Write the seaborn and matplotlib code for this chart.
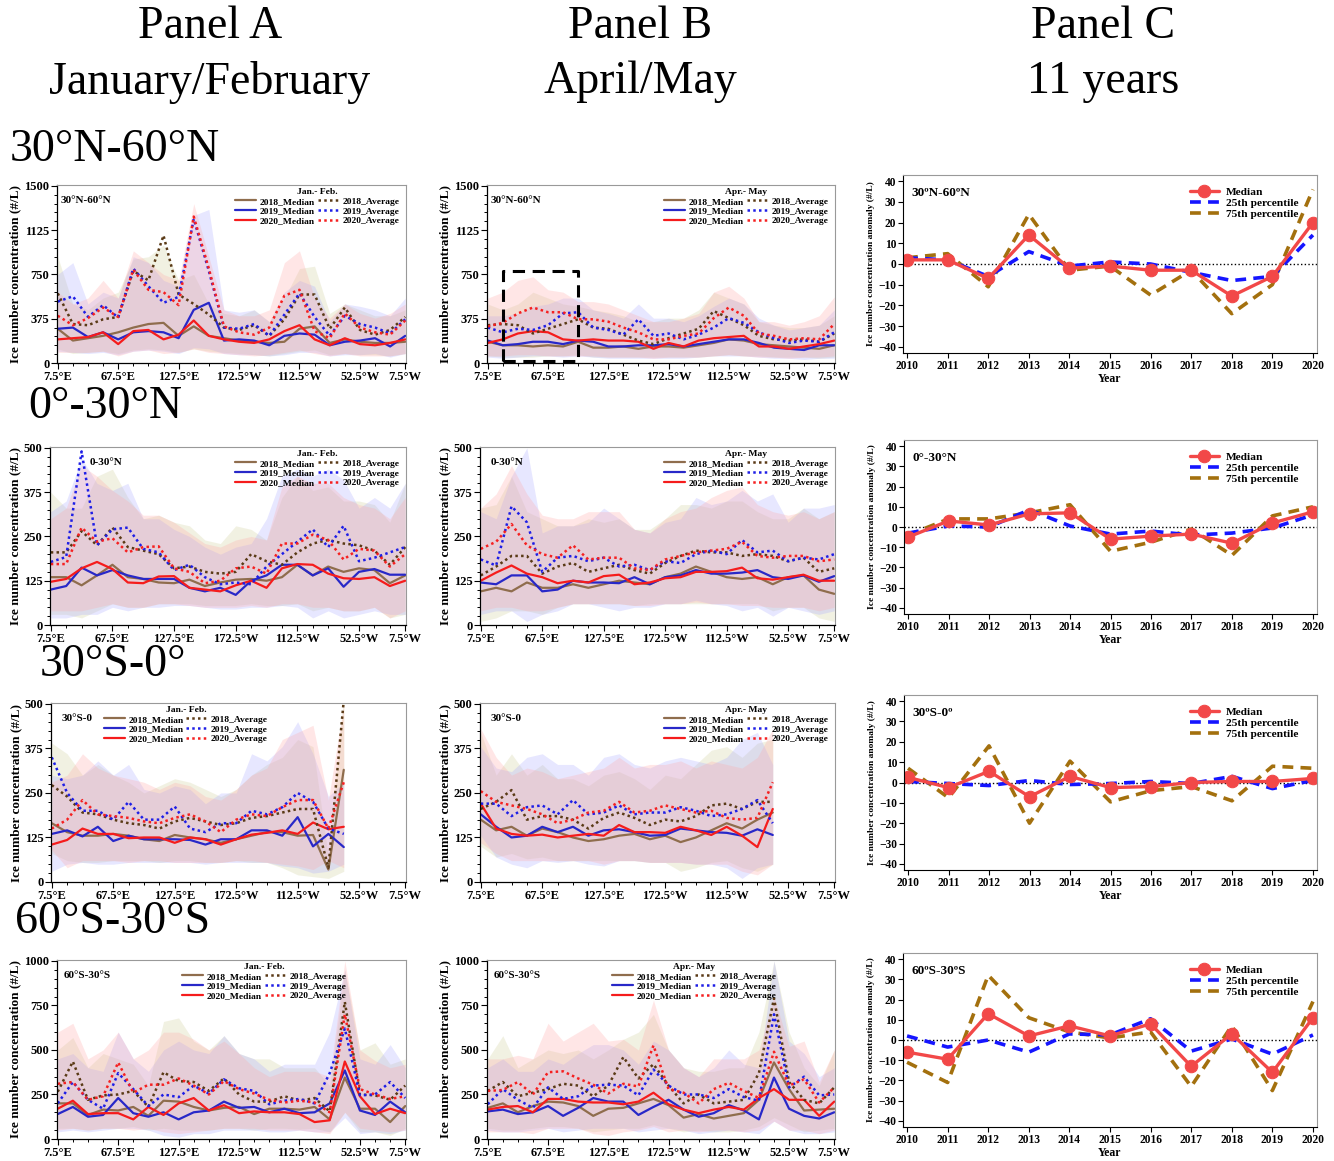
import numpy as np
import matplotlib
matplotlib.use("Agg")
import matplotlib.pyplot as plt
from matplotlib.ticker import AutoMinorLocator, FixedLocator
import seaborn as sns

# longitude grid (15 deg bins, 7.5E .. 7.5W)
lon_idx = list(range(24))
lon_ticks = [0, 4, 8, 12, 16, 20, 23]
lon_labels = ["7.5°E", "67.5°E", "127.5°E", "172.5°W", "112.5°W", "52.5°W", "7.5°W"]
years_c = [2010, 2011, 2012, 2013, 2014, 2015, 2016, 2017, 2018, 2019, 2020]

# ---- Panel A, 30N-60N (Jan-Feb)
A1_med18 = [290, 190, 210, 230, 260, 300, 330, 340, 230, 310, 230, 210, 190, 180, 170, 180, 290, 310, 170, 200, 180, 170, 170, 180]
A1_med19 = [290, 300, 220, 260, 200, 260, 270, 260, 210, 450, 510, 190, 200, 190, 150, 230, 250, 240, 150, 180, 190, 210, 140, 230]
A1_med20 = [200, 210, 220, 260, 160, 270, 280, 200, 240, 360, 230, 200, 180, 170, 200, 270, 320, 200, 150, 210, 160, 150, 170, 200]
A1_avg18 = [590, 330, 320, 370, 390, 780, 700, 1080, 580, 500, 410, 300, 280, 320, 230, 370, 580, 580, 290, 470, 280, 240, 280, 390]
A1_avg19 = [520, 565, 390, 490, 385, 800, 650, 510, 560, 1220, 780, 300, 290, 330, 230, 410, 590, 390, 230, 400, 330, 300, 250, 370]
A1_avg20 = [400, 320, 380, 470, 390, 790, 620, 600, 490, 1240, 800, 310, 260, 240, 300, 570, 620, 270, 210, 420, 300, 260, 240, 360]
A1_hi18 = [900, 500, 450, 550, 600, 880, 900, 1000, 700, 750, 500, 420, 400, 450, 350, 550, 800, 820, 420, 500, 450, 400, 400, 450]
A1_hi19 = [750, 850, 500, 600, 550, 900, 850, 700, 650, 1250, 1300, 450, 430, 450, 350, 600, 700, 650, 350, 500, 480, 450, 400, 550]
A1_hi20 = [600, 500, 550, 700, 550, 950, 850, 750, 700, 1350, 900, 450, 400, 400, 450, 850, 950, 550, 380, 500, 420, 380, 420, 500]
A1_lo18 = [120, 80, 90, 100, 80, 110, 120, 110, 90, 120, 100, 90, 80, 70, 60, 80, 100, 110, 70, 80, 70, 70, 60, 80]
A1_lo19 = [100, 90, 80, 90, 70, 100, 110, 100, 80, 130, 120, 80, 70, 70, 60, 70, 90, 90, 60, 70, 70, 80, 50, 80]
A1_lo20 = [90, 90, 90, 100, 60, 100, 110, 80, 90, 120, 90, 80, 70, 60, 70, 90, 110, 80, 60, 80, 60, 60, 60, 80]

# ---- Panel A, 0-30N
A2_med18 = [135, 135, 112, 140, 170, 135, 130, 120, 118, 128, 110, 120, 128, 130, 125, 135, 170, 140, 165, 150, 160, 155, 118, 140]
A2_med19 = [100, 110, 162, 140, 155, 140, 130, 130, 130, 105, 95, 105, 85, 125, 140, 170, 170, 140, 160, 108, 150, 158, 142, 142]
A2_med20 = [122, 130, 160, 178, 158, 120, 118, 137, 138, 105, 100, 95, 112, 125, 105, 160, 172, 170, 145, 132, 130, 135, 110, 125]
A2_avg18 = [205, 205, 265, 225, 275, 220, 210, 200, 160, 165, 150, 145, 150, 200, 180, 170, 205, 230, 240, 230, 225, 210, 170, 220]
A2_avg19 = [178, 192, 490, 225, 270, 275, 215, 205, 155, 170, 135, 115, 120, 115, 165, 200, 235, 270, 220, 280, 180, 190, 205, 220]
A2_avg20 = [172, 172, 275, 235, 245, 205, 220, 222, 160, 150, 118, 125, 160, 165, 145, 230, 230, 255, 240, 185, 215, 210, 165, 200]
A2_hi18 = [375, 330, 330, 420, 440, 360, 300, 310, 290, 280, 240, 230, 280, 270, 240, 360, 420, 380, 390, 350, 350, 340, 290, 400]
A2_hi19 = [320, 350, 470, 400, 380, 400, 300, 300, 270, 250, 220, 200, 220, 230, 300, 420, 440, 420, 440, 410, 330, 360, 330, 400]
A2_hi20 = [300, 330, 450, 420, 380, 350, 310, 310, 290, 260, 230, 220, 240, 250, 240, 390, 420, 400, 400, 360, 340, 330, 300, 360]
A2_lo18 = [30, 30, 20, 40, 60, 50, 50, 60, 60, 60, 55, 55, 55, 60, 55, 55, 60, 40, 50, 40, 40, 50, 20, 30]
A2_lo19 = [20, 20, 30, 30, 50, 40, 50, 50, 55, 55, 50, 45, 45, 50, 50, 55, 50, 20, 40, 20, 30, 40, 30, 30]
A2_lo20 = [40, 40, 40, 50, 60, 50, 50, 60, 60, 55, 50, 50, 50, 55, 50, 60, 60, 50, 50, 40, 40, 50, 20, 40]

# ---- Panel A, 30S-0 (data up to 67.5W only)
A3_med18 = [165, 140, 130, 130, 135, 130, 120, 115, 132, 125, 120, 110, 120, 130, 140, 140, 130, 132, 35, 315]
A3_med19 = [135, 145, 128, 155, 115, 130, 120, 120, 120, 118, 105, 120, 120, 145, 145, 130, 182, 100, 135, 98]
A3_med20 = [105, 118, 150, 135, 135, 123, 125, 125, 110, 125, 120, 105, 120, 133, 138, 145, 135, 167, 148, 155]
A3_avg18 = [272, 240, 195, 190, 175, 165, 160, 150, 170, 180, 170, 160, 165, 180, 185, 195, 205, 205, 40, 510]
A3_avg19 = [350, 250, 200, 200, 175, 225, 175, 175, 212, 150, 140, 165, 165, 200, 190, 210, 250, 225, 150, 135]
A3_avg20 = [150, 175, 230, 190, 185, 180, 170, 165, 180, 190, 170, 140, 175, 190, 185, 210, 230, 230, 150, 280]
A3_hi18 = [390, 360, 300, 330, 300, 280, 250, 270, 290, 280, 260, 240, 260, 300, 330, 350, 400, 380, 70, 520]
A3_hi19 = [300, 290, 300, 340, 300, 330, 260, 250, 270, 260, 220, 250, 250, 360, 340, 380, 450, 360, 240, 280]
A3_hi20 = [280, 300, 360, 320, 300, 290, 280, 260, 280, 270, 240, 230, 260, 300, 320, 400, 420, 440, 230, 500]
A3_lo18 = [80, 60, 55, 55, 60, 60, 60, 55, 60, 60, 55, 55, 60, 55, 55, 40, 20, 15, 10, 30]
A3_lo19 = [30, 50, 55, 50, 50, 55, 55, 55, 55, 55, 50, 55, 55, 55, 55, 45, 40, 25, 30, 50]
A3_lo20 = [90, 40, 60, 60, 60, 55, 60, 60, 55, 55, 55, 55, 60, 60, 55, 50, 45, 35, 60, 40]

# ---- Panel A, 60S-30S
A4_med18 = [200, 200, 135, 165, 160, 180, 130, 215, 210, 180, 160, 175, 180, 140, 170, 170, 165, 180, 110, 345, 170, 170, 95, 185]
A4_med19 = [140, 180, 125, 135, 230, 145, 125, 150, 110, 150, 160, 210, 175, 180, 150, 170, 145, 150, 200, 385, 160, 135, 210, 150]
A4_med20 = [170, 215, 140, 145, 145, 110, 180, 135, 200, 230, 160, 190, 145, 155, 150, 150, 140, 95, 105, 435, 240, 140, 170, 145]
A4_avg18 = [265, 435, 220, 245, 250, 270, 180, 375, 325, 320, 270, 340, 250, 210, 210, 240, 215, 230, 155, 770, 250, 245, 220, 300]
A4_avg19 = [200, 320, 220, 170, 370, 280, 185, 250, 235, 300, 255, 335, 285, 270, 195, 215, 225, 200, 370, 620, 245, 250, 320, 230]
A4_avg20 = [310, 320, 220, 240, 430, 260, 305, 305, 340, 300, 250, 325, 280, 255, 220, 205, 215, 205, 150, 700, 280, 250, 225, 240]
A4_hi18 = [500, 570, 400, 480, 450, 420, 300, 660, 680, 550, 500, 580, 480, 450, 450, 400, 400, 400, 300, 950, 500, 540, 420, 450]
A4_hi19 = [450, 480, 400, 380, 600, 450, 380, 500, 550, 500, 480, 580, 480, 450, 380, 420, 420, 420, 600, 950, 450, 420, 530, 400]
A4_hi20 = [600, 650, 450, 500, 600, 450, 500, 600, 600, 560, 500, 550, 480, 400, 350, 380, 380, 380, 350, 1000, 500, 440, 400, 420]
A4_lo18 = [60, 60, 50, 60, 60, 70, 50, 60, 50, 50, 50, 60, 60, 50, 60, 60, 55, 60, 40, 150, 40, 40, 20, 60]
A4_lo19 = [40, 50, 40, 50, 60, 60, 50, 20, 10, 30, 30, 50, 50, 50, 40, 40, 50, 40, 40, 120, 30, 40, 30, 50]
A4_lo20 = [50, 60, 50, 60, 60, 50, 60, 40, 30, 40, 50, 60, 60, 60, 50, 50, 50, 40, 30, 150, 60, 50, 40, 50]

# ---- Panel B, 30N-60N (Apr-May)
B1_med18 = [180, 150, 150, 140, 150, 140, 180, 130, 130, 140, 120, 140, 140, 130, 150, 170, 200, 190, 160, 150, 140, 130, 120, 150]
B1_med19 = [190, 150, 160, 180, 180, 160, 190, 180, 140, 140, 150, 150, 160, 140, 160, 180, 200, 200, 170, 130, 120, 110, 150, 150]
B1_med20 = [170, 200, 250, 270, 260, 200, 190, 200, 190, 190, 180, 120, 170, 140, 190, 210, 220, 230, 140, 140, 120, 140, 160, 190]
B1_avg18 = [320, 330, 320, 250, 290, 330, 370, 300, 290, 240, 190, 160, 210, 250, 290, 440, 380, 320, 230, 200, 190, 200, 180, 250]
B1_avg19 = [300, 260, 290, 280, 320, 420, 430, 300, 280, 240, 370, 230, 250, 200, 240, 300, 380, 340, 260, 210, 170, 190, 180, 260]
B1_avg20 = [310, 340, 420, 470, 430, 430, 370, 370, 350, 300, 260, 200, 200, 230, 250, 380, 470, 400, 250, 230, 200, 210, 200, 330]
B1_hi18 = [500, 450, 500, 600, 550, 500, 480, 450, 430, 400, 350, 350, 380, 380, 450, 600, 550, 500, 350, 320, 300, 300, 320, 400]
B1_hi19 = [400, 400, 420, 480, 500, 550, 550, 450, 420, 380, 500, 380, 380, 350, 400, 480, 550, 500, 380, 320, 280, 300, 320, 450]
B1_hi20 = [550, 600, 700, 730, 620, 600, 520, 520, 500, 450, 400, 350, 350, 380, 420, 600, 650, 550, 350, 350, 320, 350, 400, 560]
B1_lo18 = [60, 50, 50, 50, 60, 60, 70, 50, 50, 50, 50, 50, 50, 50, 50, 60, 70, 60, 60, 50, 50, 50, 40, 50]
B1_lo19 = [50, 40, 50, 60, 60, 50, 60, 50, 40, 40, 40, 40, 40, 40, 50, 60, 60, 60, 50, 40, 40, 30, 40, 40]
B1_lo20 = [60, 60, 70, 70, 60, 60, 60, 60, 50, 50, 50, 40, 50, 50, 50, 60, 70, 60, 50, 50, 40, 50, 50, 60]

# ---- Panel B, 0-30N
B2_med18 = [95, 105, 95, 120, 105, 105, 115, 105, 115, 125, 120, 115, 135, 145, 165, 150, 135, 130, 135, 115, 135, 140, 100, 88]
B2_med19 = [120, 115, 140, 140, 95, 100, 125, 120, 120, 118, 135, 115, 135, 140, 155, 145, 145, 148, 155, 135, 130, 140, 122, 138]
B2_med20 = [125, 148, 168, 145, 135, 118, 125, 120, 138, 142, 115, 120, 132, 135, 150, 150, 152, 162, 132, 128, 135, 142, 125, 125]
B2_avg18 = [140, 165, 195, 195, 145, 165, 175, 150, 160, 170, 155, 145, 175, 195, 210, 205, 205, 195, 200, 195, 180, 190, 150, 160]
B2_avg19 = [185, 168, 335, 290, 150, 190, 195, 180, 190, 165, 170, 155, 180, 175, 200, 210, 200, 240, 205, 210, 180, 190, 185, 200]
B2_avg20 = [215, 235, 285, 225, 200, 190, 225, 185, 190, 190, 160, 155, 185, 195, 205, 210, 215, 235, 195, 190, 195, 195, 180, 185]
B2_hi18 = [330, 340, 420, 320, 300, 280, 280, 300, 290, 300, 270, 270, 300, 340, 340, 330, 350, 350, 320, 300, 300, 330, 300, 320]
B2_hi19 = [320, 300, 420, 500, 260, 280, 280, 290, 330, 300, 270, 260, 290, 300, 360, 340, 350, 380, 350, 370, 290, 330, 330, 340]
B2_hi20 = [330, 370, 450, 370, 310, 300, 300, 320, 320, 320, 270, 260, 300, 320, 330, 360, 380, 390, 340, 320, 310, 320, 300, 320]
B2_lo18 = [10, 20, 40, 40, 30, 50, 60, 60, 60, 60, 55, 60, 60, 60, 60, 60, 60, 60, 60, 40, 50, 50, 20, 10]
B2_lo19 = [30, 40, 40, 10, 30, 40, 60, 60, 50, 40, 50, 50, 60, 60, 70, 60, 55, 40, 50, 25, 50, 40, 30, 40]
B2_lo20 = [40, 50, 50, 40, 40, 50, 60, 60, 60, 60, 55, 55, 60, 60, 65, 60, 60, 55, 55, 50, 50, 50, 40, 50]

# ---- Panel B, 30S-0
B3_med18 = [175, 145, 155, 130, 150, 140, 125, 115, 120, 130, 135, 120, 130, 112, 125, 145, 165, 150, 175, 195]
B3_med19 = [190, 155, 125, 130, 155, 140, 155, 130, 145, 148, 140, 130, 132, 150, 145, 140, 138, 130, 148, 132]
B3_med20 = [220, 150, 135, 130, 133, 125, 130, 135, 130, 160, 140, 140, 138, 155, 145, 132, 155, 130, 98, 205]
B3_avg18 = [205, 225, 258, 175, 185, 185, 175, 150, 180, 195, 180, 160, 175, 170, 185, 215, 220, 205, 225, 225]
B3_avg19 = [220, 220, 185, 210, 215, 190, 230, 190, 195, 215, 190, 195, 195, 210, 200, 185, 190, 205, 230, 165]
B3_avg20 = [255, 225, 215, 205, 190, 165, 175, 195, 200, 225, 195, 200, 215, 205, 195, 200, 180, 175, 180, 280]
B3_hi18 = [420, 300, 360, 300, 330, 290, 290, 270, 300, 310, 290, 260, 300, 290, 330, 370, 380, 350, 390, 400]
B3_hi19 = [380, 320, 310, 350, 360, 330, 330, 300, 350, 360, 330, 320, 340, 350, 340, 330, 350, 400, 420, 330]
B3_hi20 = [430, 350, 300, 320, 310, 290, 300, 310, 320, 350, 320, 330, 330, 340, 320, 340, 330, 320, 350, 430]
B3_lo18 = [100, 70, 80, 65, 70, 60, 60, 60, 60, 60, 60, 55, 55, 30, 40, 55, 60, 40, 30, 50]
B3_lo19 = [130, 70, 50, 40, 60, 55, 60, 50, 45, 60, 60, 55, 55, 55, 50, 50, 40, 10, 40, 50]
B3_lo20 = [110, 80, 60, 60, 60, 60, 60, 60, 50, 60, 60, 55, 55, 55, 50, 50, 50, 30, 20, 50]

# ---- Panel B, 60S-30S
B4_med18 = [175, 200, 150, 185, 210, 205, 185, 130, 170, 175, 200, 225, 190, 120, 140, 115, 130, 145, 220, 430, 280, 160, 165, 170]
B4_med19 = [155, 165, 140, 150, 185, 130, 175, 230, 210, 210, 135, 180, 220, 165, 125, 145, 190, 160, 110, 345, 170, 130, 115, 150]
B4_med20 = [165, 180, 185, 150, 225, 225, 210, 205, 205, 195, 210, 260, 195, 165, 145, 165, 180, 165, 230, 280, 220, 220, 130, 210]
B4_avg18 = [270, 320, 240, 260, 280, 310, 300, 240, 300, 460, 340, 420, 300, 200, 250, 200, 210, 220, 370, 790, 320, 220, 200, 290]
B4_avg19 = [195, 280, 220, 175, 290, 225, 240, 300, 305, 300, 245, 390, 300, 250, 250, 230, 280, 235, 215, 700, 290, 350, 245, 250]
B4_avg20 = [270, 275, 320, 250, 375, 380, 340, 305, 255, 310, 295, 525, 280, 260, 200, 280, 315, 270, 230, 490, 300, 335, 205, 290]
B4_hi18 = [450, 580, 400, 450, 500, 480, 500, 450, 500, 560, 600, 700, 500, 400, 380, 380, 400, 400, 600, 1000, 600, 400, 300, 500]
B4_hi19 = [400, 450, 380, 380, 450, 420, 480, 530, 530, 500, 420, 550, 500, 400, 350, 400, 500, 420, 400, 1000, 550, 480, 350, 400]
B4_hi20 = [450, 450, 470, 450, 650, 550, 600, 650, 550, 560, 500, 780, 500, 400, 350, 450, 450, 450, 500, 800, 520, 550, 320, 500]
B4_lo18 = [60, 50, 50, 60, 70, 70, 60, 40, 50, 60, 60, 80, 60, 40, 50, 40, 40, 50, 70, 120, 80, 40, 50, 60]
B4_lo19 = [50, 40, 40, 50, 60, 40, 50, 60, 60, 60, 40, 50, 60, 50, 30, 40, 50, 40, 30, 100, 50, 30, 30, 40]
B4_lo20 = [40, 40, 40, 30, 60, 60, 60, 30, 20, 40, 50, 70, 40, 50, 40, 50, 50, 40, 50, 100, 50, 50, 30, 50]

# ---- Panel C, anomalies 2010-2020
C1_med = [2, 2, -7, 14, -2, -1, -3, -3, -15.5, -6, 20]
C1_p25 = [3, 2, -6, 6, -1, 1, 0, -4, -8, -6, 14]
C1_p75 = [3, 5, -11, 24, -3, -1, -15, -3, -24, -10, 36]
C2_med = [-5, 3, 1, 6.5, 7, -6, -4.5, -3.5, -8, 2, 7.5]
C2_p25 = [-3, 0.5, 0, 8.5, 0.5, -3.5, -2, -4, -3, -0.5, 6]
C2_p75 = [-4, 4, 4, 7, 11, -12, -7.5, -1, -14, 5.5, 10]
C3_med = [2.5, -2.5, 5.5, -7, 3, -2.5, -2, 0, 0.5, 0.5, 2]
C3_p25 = [0.5, -0.5, -1.5, 1, -1, -0.5, 0.5, -0.5, 3, -3, 1]
C3_p75 = [7, -7.5, 18, -20, 10.5, -9.5, -4, -2, -9, 8, 7]
C4_med = [-6, -9.5, 13, 2, 7, 2, 8, -13, 3, -16, 11]
C4_p25 = [2, -3.5, 0, -6, 3, 2.5, 10.5, -5.5, 0.5, -7, 2.5]
C4_p75 = [-11, -21, 32, 11, 4, 1, 4, -23, 7, -25, 19]

W, H = 1334, 1161
sns.set_theme(style="ticks")
plt.rcParams["font.family"] = ["Liberation Serif", "DejaVu Serif"]
plt.rcParams["font.weight"] = "bold"
plt.rcParams["axes.labelweight"] = "bold"
plt.rcParams["text.color"] = "black"
plt.rcParams["axes.labelcolor"] = "black"
plt.rcParams["xtick.color"] = "black"
plt.rcParams["ytick.color"] = "black"

fig = plt.figure(figsize=(W / 100, H / 100), dpi=100)


def px_axes(l, t, r, b):
    return fig.add_axes([l / W, 1 - b / H, (r - l) / W, (b - t) / H])


col_med = {"2018": "#8f6d4d", "2019": "#2828c8", "2020": "#f51c1c"}
col_avg = {"2018": "#5a3a16", "2019": "#1e1ee6", "2020": "#f52020"}
col_band = {"2018": "#cfcf9a", "2019": "#a9a9ff", "2020": "#ffa8a8"}

ns = globals()


def lon_panel(ax, key, ymax, region, season, leg_loc, leg_anchor, lab_x):
    lines_med, lines_avg = [], []
    for yr in ["2018", "2019", "2020"]:
        s = yr[2:]
        lo, hi = ns[f"{key}_lo{s}"], ns[f"{key}_hi{s}"]
        xs = lon_idx[:len(lo)]
        ax.fill_between(xs, lo, hi, color=col_band[yr], alpha=0.28, lw=0)
    for yr in ["2018", "2019", "2020"]:
        s = yr[2:]
        med = ns[f"{key}_med{s}"]
        xs = lon_idx[:len(med)]
        sns.lineplot(x=xs, y=med, ax=ax, color=col_med[yr], lw=1.6, label=f"{yr}_Median")
        lines_med.append(ax.lines[-1])
    for yr in ["2018", "2019", "2020"]:
        s = yr[2:]
        avg = ns[f"{key}_avg{s}"]
        xs = lon_idx[:len(avg)]
        sns.lineplot(x=xs, y=avg, ax=ax, color=col_avg[yr], lw=1.8, label=f"{yr}_Average")
        ax.lines[-1].set_linestyle((0, (1.0, 1.3)))
        lines_avg.append(ax.lines[-1])
    leg = ax.legend(handles=lines_med + lines_avg, ncol=2, loc=leg_loc, bbox_to_anchor=leg_anchor,
                    title=season, frameon=False, fontsize=6.8, title_fontsize=6.8,
                    handlelength=2.2, handletextpad=0.4, columnspacing=0.3, labelspacing=0.12,
                    borderpad=0.2)
    for t in leg.get_texts():
        t.set_fontweight("bold")
    leg.get_title().set_fontweight("bold")
    ax.text(lab_x, 0.94, region, transform=ax.transAxes, fontsize=8, fontweight="bold", va="top")
    ax.set_xlim(-0.05, 23.05)
    ax.set_ylim(0, ymax * 1.005)
    ax.set_yticks(np.linspace(0, ymax, 5))
    ax.set_yticklabels([f"{v:g}" for v in np.linspace(0, ymax, 5)])
    ax.yaxis.set_minor_locator(AutoMinorLocator(5))
    ax.set_xticks(lon_ticks)
    ax.set_xticklabels(lon_labels)
    ax.xaxis.set_minor_locator(FixedLocator(lon_idx))
    ax.tick_params(axis="both", which="major", labelsize=9, length=4, width=0.8, pad=1.5)
    ax.tick_params(axis="both", which="minor", length=2.5, width=0.7)
    for lab in ax.get_xticklabels() + ax.get_yticklabels():
        lab.set_fontweight("bold")
    ax.set_ylabel("Ice number concentration (#/L)", fontsize=9.5, fontweight="bold", labelpad=2)
    for sp in ["top", "right"]:
        ax.spines[sp].set_color("#999999")
        ax.spines[sp].set_linewidth(0.8)
    for sp in ["left", "bottom"]:
        ax.spines[sp].set_color("black")
        ax.spines[sp].set_linewidth(0.9)


def year_panel(ax, key, region):
    sns.lineplot(x=years_c, y=ns[f"{key}_p75"], ax=ax, color="#a3700e", lw=2.6, label="75th percentile")
    l75 = ax.lines[-1]
    l75.set_linestyle((0, (3, 2)))
    sns.lineplot(x=years_c, y=ns[f"{key}_p25"], ax=ax, color="#1515ff", lw=2.6, label="25th percentile")
    l25 = ax.lines[-1]
    l25.set_linestyle((0, (3, 2)))
    sns.lineplot(x=years_c, y=ns[f"{key}_med"], ax=ax, color="#f24848", lw=2.4, marker="o",
                 markersize=9, markeredgecolor="#f24848", label="Median")
    lmed = ax.lines[-1]
    ax.axhline(0, color="black", ls=":", lw=1.0, zorder=0)
    leg = ax.legend(handles=[lmed, l25, l75], loc="upper right", bbox_to_anchor=(0.98, 0.99),
                    frameon=False, fontsize=8.2, handlelength=2.6, labelspacing=0.1,
                    handletextpad=0.6)
    for t in leg.get_texts():
        t.set_fontweight("bold")
    ax.text(0.02, 0.93, region, transform=ax.transAxes, fontsize=9.5, fontweight="bold", va="top")
    ax.set_xlim(2009.9, 2020.1)
    ax.set_ylim(-43, 43)
    ax.set_xticks(years_c)
    ax.set_xticklabels([str(y) for y in years_c])
    ax.set_yticks(range(-40, 41, 10))
    ax.tick_params(axis="both", labelsize=8.3, length=3.5, width=0.8, pad=1.5)
    for lab in ax.get_xticklabels() + ax.get_yticklabels():
        lab.set_fontweight("bold")
    ax.set_xlabel("Year", fontsize=8.5, fontweight="bold", labelpad=1)
    ax.set_ylabel("Ice number concentration anomaly (#/L)", fontsize=6.8, fontweight="bold", labelpad=2)
    for sp in ["top", "right"]:
        ax.spines[sp].set_color("#999999")
    for sp in ["left", "bottom"]:
        ax.spines[sp].set_color("black")
    for sp in ax.spines.values():
        sp.set_linewidth(0.8)


rows = [
    ("A1", "B1", "C1", 1500, "30°N-60°N", "30°N-60°N", "30ºN-60ºN"),
    ("A2", "B2", "C2", 500, "0-30°N", "0-30°N", "0°-30°N"),
    ("A3", "B3", "C3", 500, "30°S-0", "30°S-0", "30ºS-0º"),
    ("A4", "B4", "C4", 1000, "60°S-30°S", "60°S-30°S", "60ºS-30ºS"),
]
boxes_a = [(57, 185, 406, 363), (50, 447, 406, 625), (51, 703, 406, 882), (57, 960, 406, 1139)]
boxes_b = [(487, 185, 835, 363), (480, 447, 835, 625), (480, 703, 835, 882), (487, 960, 835, 1139)]
boxes_c = [(903, 175, 1317, 353), (904, 440, 1317, 614), (904, 695, 1317, 870), (903, 953, 1317, 1127)]
leg_a = [("upper right", (1.0, 1.02)), ("upper right", (1.0, 1.02)),
         ("upper left", (0.13, 1.02)), ("upper left", (0.34, 1.02))]
leg_b = [("upper right", (1.0, 1.02)), ("upper right", (1.0, 1.02)),
         ("upper right", (1.0, 1.02)), ("upper left", (0.34, 1.02))]
lab_a = [0.01, 0.11, 0.03, 0.02]
lab_b = [0.01, 0.03, 0.03, 0.02]

for i, (ka, kb, kc, ymax, ra, rb, rc) in enumerate(rows):
    ax = px_axes(*boxes_a[i])
    lon_panel(ax, ka, ymax, ra, "Jan.- Feb.", leg_a[i][0], leg_a[i][1], lab_a[i])
    ax = px_axes(*boxes_b[i])
    lon_panel(ax, kb, ymax, rb, "Apr.- May", leg_b[i][0], leg_b[i][1], lab_b[i])
    if i == 0:
        ax.plot([1, 1, 6, 6, 1], [15, 780, 780, 15, 15], color="black", lw=2.2, ls=(0, (4, 2.5)))
    ax = px_axes(*boxes_c[i])
    year_panel(ax, kc, rc)

# column titles and row labels
for xc, t1, t2 in [(210, "Panel A", "January/February"), (640, "Panel B", "April/May"),
                   (1103, "Panel C", "11 years")]:
    fig.text(xc / W, 1 - 27 / H, t1, ha="center", va="center", fontsize=33, fontweight="normal")
    fig.text(xc / W, 1 - 82 / H, t2, ha="center", va="center", fontsize=33, fontweight="normal")

for xl, yc, t in [(10, 150, "30°N-60°N"), (28, 407, "0°-30°N"), (40, 665, "30°S-0°"), (15, 922, "60°S-30°S")]:
    fig.text(xl / W, 1 - yc / H, t, ha="left", va="center", fontsize=33, fontweight="normal")

fig.savefig("out.png", dpi=100)
